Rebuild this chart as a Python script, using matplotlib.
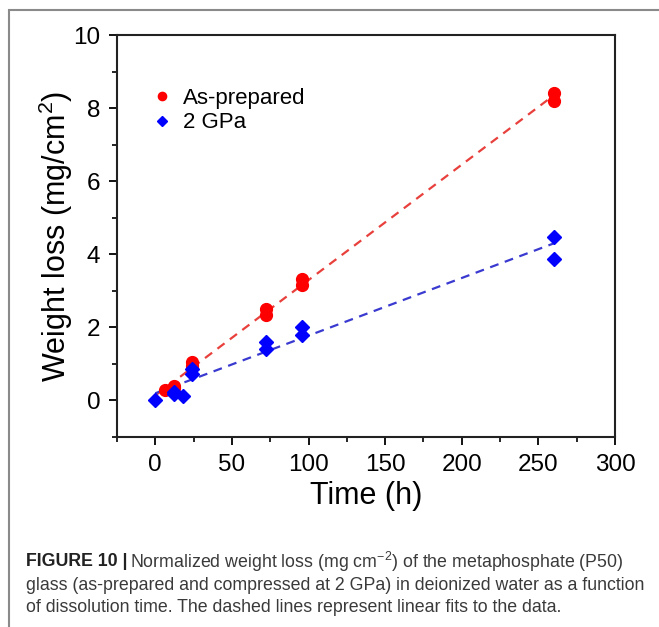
import numpy as np
import matplotlib
matplotlib.use("Agg")
import matplotlib.pyplot as plt
from matplotlib.patches import Rectangle
from matplotlib.ticker import MultipleLocator

# ---- data ----
t_asprep = [6, 12, 12, 24, 24, 72, 72, 96, 96, 260, 260]
w_asprep = [0.29, 0.33, 0.40, 1.05, 0.95, 2.50, 2.35, 3.33, 3.17, 8.42, 8.20]
t_2gpa = [0, 12, 12, 18, 24, 24, 72, 72, 96, 96, 260, 260]
w_2gpa = [0.02, 0.22, 0.17, 0.12, 0.85, 0.72, 1.60, 1.42, 2.02, 1.78, 4.48, 3.88]
labels = ["As-prepared", "2 GPa"]
x_ticks = [0, 50, 100, 150, 200, 250, 300]
y_ticks = [0, 2, 4, 6, 8, 10]

plt.rcParams['font.family'] = ['Liberation Sans', 'DejaVu Sans']
plt.rcParams['mathtext.fontset'] = 'custom'
plt.rcParams['mathtext.rm'] = 'Liberation Sans'
plt.rcParams['mathtext.it'] = 'Liberation Sans:italic'

W, H = 659, 627
fig = plt.figure(figsize=(W / 100, H / 100), dpi=100)

# outer border
fig.patches.append(Rectangle((9 / W, -0.05), 1.2, 1 - 10 / H + 0.05,
                             transform=fig.transFigure, fill=False,
                             edgecolor='#8a8a8a', linewidth=1.5))

ax = fig.add_axes([117 / W, 1 - 437 / H, (615 - 117) / W, (437 - 35) / H])
ax.set_xlim(-25, 300)
ax.set_ylim(-1, 10)

# fits
tt = np.array([0, 260])
pr = np.polyfit(t_asprep, w_asprep, 1)
pb = np.polyfit(t_2gpa, w_2gpa, 1)
ax.plot(tt, np.polyval(pr, tt), linestyle=(0, (4, 3)), color='#e8403c', lw=1.6, zorder=2)
ax.plot(tt, np.polyval(pb, tt), linestyle=(0, (4, 3)), color='#3a3ad0', lw=1.6, zorder=2)

ax.plot(t_asprep, w_asprep, 'o', color='#ff0000', ms=8.5, mec='#ff0000', ls='none',
        label=labels[0], zorder=3)
ax.plot(t_2gpa, w_2gpa, 'D', color='#0000ff', ms=7.5, mec='#0000ff', ls='none',
        label=labels[1], zorder=4)

ax.set_xticks(x_ticks)
ax.set_yticks(y_ticks)
ax.xaxis.set_minor_locator(MultipleLocator(25))
ax.yaxis.set_minor_locator(MultipleLocator(1))
ax.tick_params(which='major', direction='out', length=6, width=1.3, labelsize=17.5,
               top=False, right=False, pad=6)
ax.tick_params(which='minor', direction='out', length=3.5, width=1.2,
               top=False, right=False)
for s in ax.spines.values():
    s.set_linewidth(1.5)
    s.set_color('#222222')

ax.set_xlabel("Time (h)", fontsize=22, labelpad=4)
ax.set_ylabel("Weight loss (mg/cm$^2$)", fontsize=22, labelpad=-1)

leg = ax.legend(loc='upper left', bbox_to_anchor=(0.05, 0.89), frameon=False,
                fontsize=16, handletextpad=0.45, markerscale=0.7,
                borderaxespad=0, labelspacing=0.15, handlelength=1.0)

# caption
cap_font = 'Liberation Sans'
col = '#3a3a3a'
x0 = 26 / W
r = fig.canvas.get_renderer()
lines = [
    (562, "Normalized weight loss (mg cm$^{-2}$) of the metaphosphate (P50)"),
    (585, "glass (as-prepared and compressed at 2 GPa) in deionized water as a function"),
    (607, "of dissolution time. The dashed lines represent linear fits to the data."),
]
# font size chosen so that the second line fits the measured caption width
fs = 13.0
probe = fig.text(x0, 0.5, lines[1][1], fontsize=fs, family=cap_font)
wpx = probe.get_window_extent(renderer=r).width
probe.remove()
fs = fs * (645 - 26) / wpx

t1 = fig.text(x0, 1 - 562 / H, "FIGURE 10 |", fontsize=fs, fontweight='bold',
              family=cap_font, color='#222222', va='center')
bb = t1.get_window_extent(renderer=r)
fig.text(bb.x1 / W + 3 / W, 1 - lines[0][0] / H, lines[0][1],
         fontsize=fs, family=cap_font, color=col, va='center')
for y, s in lines[1:]:
    fig.text(x0, 1 - y / H, s, fontsize=fs, family=cap_font, color=col, va='center')

fig.savefig("out.png", dpi=100)
